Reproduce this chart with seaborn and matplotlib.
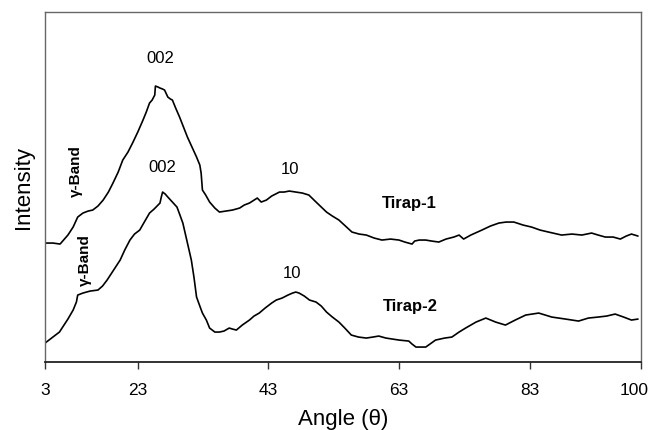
import pandas as pd
import seaborn as sns
import matplotlib
matplotlib.use("Agg")
import matplotlib.pyplot as plt
import matplotlib.transforms as mtransforms

# XRD patterns (intensity in arbitrary units)
angle_1 = [8.8, 10.0, 11.1, 11.5, 12.3, 13.1, 13.8, 14.6, 15.4, 16.1,
           16.9, 17.7, 18.5, 19.2, 20.0, 20.7, 21.5, 22.2, 23.0, 23.8,
           24.3, 24.8, 25.2, 25.6, 25.7, 26.1, 26.4, 26.8, 27.1, 27.6,
           28.0, 28.3, 28.8, 29.4, 30.0, 30.6, 31.3, 32.0, 32.5, 32.7,
           32.9, 33.4, 34.0, 34.8, 35.5, 36.5, 37.5, 38.6, 39.3, 40.1,
           41.3, 41.9, 42.7, 43.5, 44.7, 45.4, 46.2, 47.2, 48.2, 49.2,
           50.3, 51.1, 51.9, 52.8, 53.8, 54.8, 55.8, 56.9, 58.0, 59.2,
           60.4, 61.7, 63.0, 63.9, 65.0, 65.4, 66.1, 67.1, 68.0, 69.1,
           70.2, 71.4, 72.2, 72.9, 74.0, 75.7, 77.0, 78.3, 79.4, 80.6,
           82.0, 83.3, 84.6, 85.9, 87.9, 89.5, 91.0, 92.5, 93.5, 94.6,
           95.8, 96.9, 97.8, 98.6, 99.6]
tirap_1 = [119, 119, 118, 121, 127, 135, 145, 149, 151, 152,
           156, 162, 170, 179, 190, 202, 210, 219, 230, 242,
           250, 259, 262, 267, 276, 275, 274, 273, 272, 265,
           263, 262, 254, 245, 235, 225, 215, 205, 197, 189,
           172, 167, 160, 154, 150, 151, 152, 154, 157, 159,
           164, 160, 162, 166, 170, 170, 171, 170, 169, 167,
           160, 155, 150, 146, 142, 136, 130, 128, 127, 124,
           122, 123, 122, 120, 118, 121, 122, 122, 121, 120,
           123, 125, 127, 123, 127, 132, 136, 139, 140, 140,
           137, 135, 132, 130, 127, 128, 127, 129, 127, 125,
           125, 123, 126, 128, 126]

angle_2 = [8.8, 10.0, 11.0, 11.5, 12.3, 13.1, 13.6, 13.8, 14.6, 15.7,
           16.9, 17.6, 18.3, 19.3, 20.3, 21.0, 21.8, 22.5, 23.3, 24.0,
           24.8, 25.5, 26.1, 26.4, 26.6, 26.8, 27.2, 27.6, 28.3, 29.0,
           29.4, 29.9, 30.5, 31.2, 31.6, 32.0, 32.5, 32.9, 33.5, 34.0,
           34.8, 35.5, 36.2, 37.0, 37.5, 38.1, 39.0, 40.1, 40.8, 41.6,
           42.5, 43.5, 44.2, 45.1, 46.0, 46.7, 47.2, 47.7, 48.5, 49.3,
           50.3, 51.1, 51.9, 52.8, 53.8, 54.7, 55.7, 56.8, 58.0, 59.0,
           59.9, 61.0, 62.0, 63.0, 64.5, 65.0, 65.6, 66.5, 67.1, 68.6,
           70.0, 71.1, 72.2, 73.2, 74.8, 76.3, 77.8, 79.3, 80.8, 82.4,
           83.4, 84.4, 85.4, 86.4, 88.5, 90.5, 92.0, 93.5, 94.8, 96.1,
           97.4, 98.6, 99.6]
tirap_2 = [19, 25, 30, 35, 43, 52, 60, 67, 69, 71,
           72, 76, 82, 92, 102, 112, 122, 128, 132, 140,
           149, 153, 157, 159, 165, 170, 168, 165, 160, 155,
           148, 139, 122, 102, 85, 65, 56, 49, 42, 34,
           30, 30, 31, 34, 33, 32, 37, 42, 46, 49,
           54, 59, 62, 64, 67, 69, 70, 69, 66, 62,
           60, 56, 50, 45, 40, 34, 27, 25, 24, 25,
           26, 24, 23, 22, 21, 18, 15, 15, 15, 22,
           24, 25, 30, 34, 40, 44, 40, 37, 42, 47,
           48, 49, 47, 45, 43, 41, 44, 45, 46, 48,
           45, 42, 43]

tick_pos = [8.8, 23, 43, 63, 83, 100]
tick_labels = ["3", "23", "43", "63", "83", "100"]

df = pd.concat([
    pd.DataFrame({"angle": angle_1, "intensity": tirap_1, "sample": "Tirap-1"}),
    pd.DataFrame({"angle": angle_2, "intensity": tirap_2, "sample": "Tirap-2"}),
])

sns.set_style("white")
plt.rcParams["font.family"] = ["Liberation Sans", "DejaVu Sans"]
plt.rcParams["text.color"] = "black"
plt.rcParams["axes.labelcolor"] = "black"
plt.rcParams["xtick.color"] = "black"

fig = plt.figure(figsize=(6.53, 4.30), dpi=100)
ax = fig.add_axes([0.069, 0.158, 0.912, 0.814])

sns.lineplot(data=df, x="angle", y="intensity", units="sample", estimator=None,
             color="black", linewidth=1.2, ax=ax, sort=False)

ax.set_xlim(8.8, 100)
ax.set_ylim(0, 350)
ax.set_xticks(tick_pos)
ax.set_xticklabels(tick_labels, fontsize=12.5)
ax.set_yticks([])
ax.tick_params(axis="x", direction="out", length=5, width=1, color="#333333",
               bottom=True, pad=10)
# keep "100" inside the canvas
last = ax.get_xticklabels()[-1]
last.set_transform(last.get_transform() +
                   mtransforms.ScaledTranslation(-6 / 100, 0, fig.dpi_scale_trans))

ax.set_xlabel("Angle (\u03b8)", fontsize=16, labelpad=8)
ax.set_ylabel("Intensity", fontsize=16, labelpad=8)

for side in ["top", "right", "left"]:
    ax.spines[side].set_color("#666666")
    ax.spines[side].set_linewidth(1.0)
ax.spines["bottom"].set_color("#222222")
ax.spines["bottom"].set_linewidth(1.3)

# peak annotations
ax.text(26.4, 304, "002", fontsize=12, ha="center", va="center")
ax.text(26.8, 195, "002", fontsize=12, ha="center", va="center")
ax.text(46.3, 193, "10", fontsize=12, ha="center", va="center")
ax.text(46.6, 89, "10", fontsize=12, ha="center", va="center")
ax.text(64.6, 159, "Tirap-1", fontsize=12, fontweight="bold", ha="center", va="center")
ax.text(64.8, 56, "Tirap-2", fontsize=12, fontweight="bold", ha="center", va="center")
ax.text(13.5, 191, "\u03b3-Band", fontsize=11, fontweight="bold", rotation=90,
        ha="center", va="center")
ax.text(14.9, 102, "\u03b3-Band", fontsize=11, fontweight="bold", rotation=90,
        ha="center", va="center")

fig.savefig("out.png", dpi=100)
